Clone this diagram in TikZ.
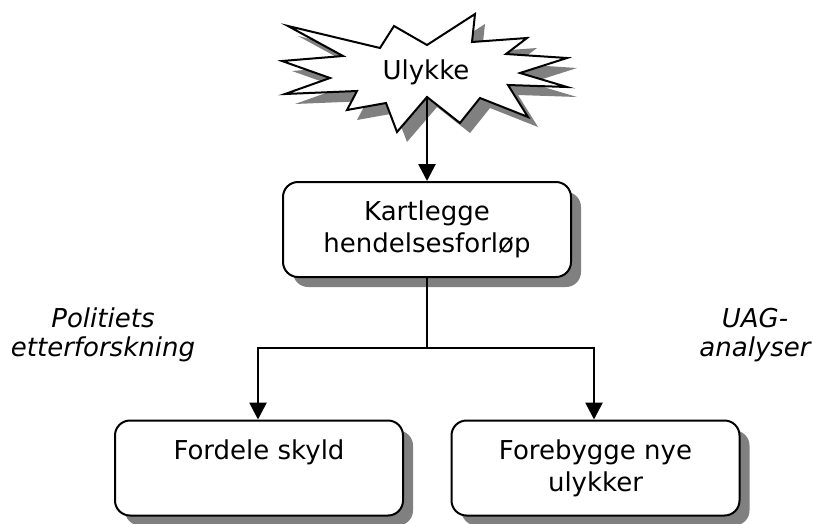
\documentclass[tikz,border=0pt]{standalone}
\usepackage{fontspec}
\setmainfont{DejaVu Sans}
\usetikzlibrary{shadows,arrows.meta}
\begin{document}
\begin{tikzpicture}[x=1pt,y=-1pt]
\tikzstyle{every node}+=[inner sep=0pt, font=\fontsize{26}{32}\selectfont]
\tikzstyle{dropshade}=[drop shadow={shadow xshift=10pt,shadow yshift=-10pt,fill=black!50,opacity=1}]
\tikzstyle{box}=[draw, line width=2pt, fill=white, rounded corners=15pt, minimum width=288pt, minimum height=95pt, align=center, dropshade]
\tikzstyle{arr}=[line width=2.7pt, line cap=rect, -{Triangle[length=17pt,width=17pt]}]
\tikzstyle{side}=[align=center, anchor=base, font=\itshape\fontsize{26}{29}\selectfont]
\useasboundingbox (0,0) rectangle (813,523);
% ulykke
\draw [black, line width=2pt, fill=white, dropshade] (288,26) -- (380,48) -- (394,26) -- (427,45)
  -- (475,14) -- (472,42) -- (527,38) -- (506,54) -- (567,58) -- (520,73) -- (567,87)
  -- (508,85) -- (528,117) -- (480,98) -- (460,123) -- (427,97) -- (397,132) -- (386,103)
  -- (347,110) -- (357,91) -- (285,94) -- (330,78) -- (282,61) -- (343,56) -- cycle;
\node (ulykke) at (426,72) {Ulykke};
\coordinate (notch) at (427,97);
% boxes
\node [box] (kart) at (427,229.5) {Kartlegge\\hendelsesforløp};
\node [box] (skyld) at (259,468) {Fordele skyld\\\phantom{y}};
\node [box] (forebygg) at (595.5,468) {Forebygge nye\\ulykker};
\node [side] (politi) at (103,356) {Politiets\\etterforskning};
\node [side] (uag) at (755,356) {UAG-\\analyser};
% connectors
\coordinate (split) at (427,348);
\coordinate (lsplit) at (258,348);
\coordinate (rsplit) at (594,348);
\draw [black, line width=1.3pt] (kart.south) -- (split);
\draw [black, line width=2pt, line cap=rect] (lsplit) -- (rsplit);
\draw [arr] (notch) -- (kart.north);
\draw [arr] (lsplit) -- (lsplit |- skyld.north);
\draw [arr] (rsplit) -- (rsplit |- forebygg.north);
\end{tikzpicture}
\end{document}
